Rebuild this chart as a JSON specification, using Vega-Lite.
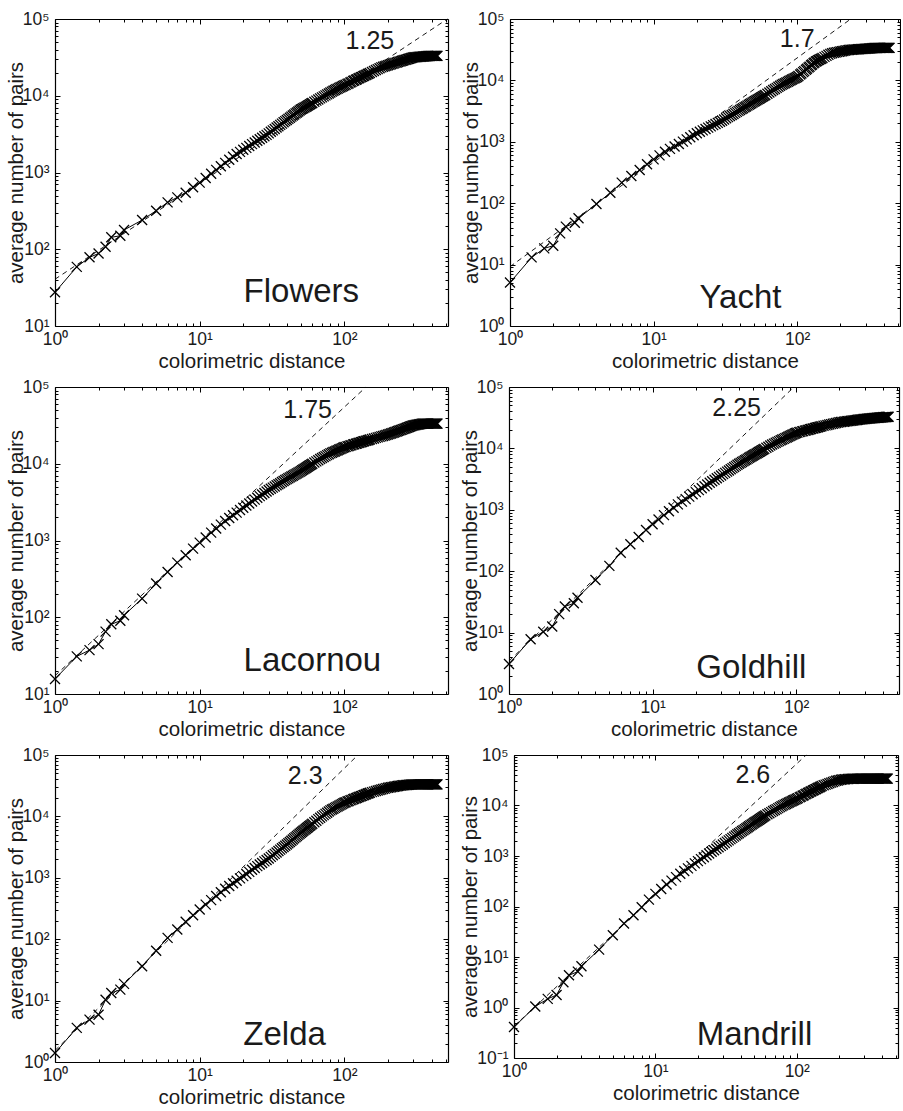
{
"$schema": "https://vega.github.io/schema/vega-lite/v6.json",
"padding": {"left": 6, "top": 10, "right": 0, "bottom": 0},
"datasets": {
"fits": [
{"img":"F","x":1,"y":40.7},{"img":"F","x":515,"y":100000},
{"img":"Y","x":1,"y":9.25},{"img":"Y","x":236,"y":100000},
{"img":"L","x":1,"y":17.3},{"img":"L","x":141,"y":100000},
{"img":"G","x":1,"y":3.44},{"img":"G","x":96.4,"y":100000},
{"img":"Z","x":1,"y":1.54},{"img":"Z","x":124,"y":100000},
{"img":"M","x":1,"y":0.425},{"img":"M","x":116.5,"y":100000}
],
"curves": [
{"img":"F","x":1,"y":27.5},{"img":"F","x":1.414,"y":59},{"img":"F","x":1.732,"y":78.5},{"img":"F","x":2,"y":88},{"img":"F","x":2.236,"y":108},{"img":"F","x":2.449,"y":143},{"img":"F","x":2.828,"y":150},{"img":"F","x":3,"y":178},{"img":"F","x":4,"y":240},{"img":"F","x":5,"y":318},{"img":"F","x":6,"y":408},{"img":"F","x":7,"y":474},{"img":"F","x":8,"y":546},{"img":"F","x":9,"y":641},{"img":"F","x":10,"y":738},{"img":"F","x":11,"y":847},{"img":"F","x":12,"y":962},{"img":"F","x":13,"y":1081},{"img":"F","x":14,"y":1205},{"img":"F","x":15,"y":1334},{"img":"F","x":16,"y":1466},{"img":"F","x":17,"y":1600},{"img":"F","x":18,"y":1738},{"img":"F","x":19,"y":1858},{"img":"F","x":20,"y":1977},{"img":"F","x":21,"y":2095},{"img":"F","x":22,"y":2215},{"img":"F","x":23,"y":2340},{"img":"F","x":24,"y":2460},{"img":"F","x":25,"y":2588},{"img":"F","x":26,"y":2710},{"img":"F","x":27,"y":2837},{"img":"F","x":28,"y":2965},{"img":"F","x":29,"y":3090},{"img":"F","x":30,"y":3236},{"img":"F","x":32,"y":3540},{"img":"F","x":34,"y":3850},{"img":"F","x":36,"y":4170},{"img":"F","x":38,"y":4505},{"img":"F","x":40,"y":4830},{"img":"F","x":42,"y":5170},{"img":"F","x":44,"y":5520},{"img":"F","x":46,"y":5890},{"img":"F","x":48,"y":6235},{"img":"F","x":50,"y":6610},{"img":"F","x":52,"y":6890},{"img":"F","x":54,"y":7170},{"img":"F","x":56,"y":7460},{"img":"F","x":58,"y":7760},{"img":"F","x":60,"y":8055},{"img":"F","x":64,"y":8630},{"img":"F","x":68,"y":9245},{"img":"F","x":72,"y":9820},{"img":"F","x":76,"y":10420},{"img":"F","x":80,"y":11010},{"img":"F","x":84,"y":11610},{"img":"F","x":88,"y":12130},{"img":"F","x":92,"y":12650},{"img":"F","x":96,"y":13150},{"img":"F","x":100,"y":13650},{"img":"F","x":105,"y":14260},{"img":"F","x":110,"y":14890},{"img":"F","x":115,"y":15530},{"img":"F","x":120,"y":16140},{"img":"F","x":125,"y":16750},{"img":"F","x":130,"y":17380},{"img":"F","x":135,"y":17950},{"img":"F","x":140,"y":18580},{"img":"F","x":145,"y":19180},{"img":"F","x":150,"y":19800},{"img":"F","x":160,"y":21020},{"img":"F","x":170,"y":22230},{"img":"F","x":180,"y":23440},{"img":"F","x":190,"y":24230},{"img":"F","x":200,"y":24950},{"img":"F","x":210,"y":25700},{"img":"F","x":220,"y":26420},{"img":"F","x":230,"y":27160},{"img":"F","x":240,"y":27860},{"img":"F","x":250,"y":28510},{"img":"F","x":260,"y":29160},{"img":"F","x":270,"y":29780},{"img":"F","x":280,"y":30410},{"img":"F","x":290,"y":30980},{"img":"F","x":300,"y":31620},{"img":"F","x":310,"y":31780},{"img":"F","x":320,"y":31990},{"img":"F","x":330,"y":32140},{"img":"F","x":340,"y":32290},{"img":"F","x":350,"y":32450},{"img":"F","x":360,"y":32600},{"img":"F","x":370,"y":32740},{"img":"F","x":380,"y":32890},{"img":"F","x":390,"y":33000},{"img":"F","x":400,"y":33110},{"img":"F","x":410,"y":33110},{"img":"F","x":420,"y":33110},{"img":"F","x":430,"y":33110},{"img":"F","x":440,"y":33110},
{"img":"F","x":31,"y":3388},{"img":"F","x":33,"y":3695},{"img":"F","x":35,"y":4010},{"img":"F","x":37,"y":4338},{"img":"F","x":39,"y":4668},{"img":"F","x":41,"y":5000},{"img":"F","x":43,"y":5345},{"img":"F","x":45,"y":5705},{"img":"F","x":47,"y":6063},{"img":"F","x":49,"y":6423},{"img":"F","x":51,"y":6750},{"img":"F","x":53,"y":7030},{"img":"F","x":55,"y":7315},{"img":"F","x":57,"y":7610},{"img":"F","x":59,"y":7908},{"img":"F","x":62,"y":8343},{"img":"F","x":66,"y":8938},{"img":"F","x":70,"y":9533},{"img":"F","x":74,"y":10120},{"img":"F","x":78,"y":10715},{"img":"F","x":82,"y":11310},{"img":"F","x":86,"y":11870},{"img":"F","x":90,"y":12390},{"img":"F","x":94,"y":12900},{"img":"F","x":98,"y":13400},{"img":"F","x":102,"y":13890},{"img":"F","x":107,"y":14510},{"img":"F","x":112,"y":15150},{"img":"F","x":117,"y":15770},{"img":"F","x":122,"y":16380},{"img":"F","x":127,"y":17000},{"img":"F","x":132,"y":17610},{"img":"F","x":137,"y":18200},{"img":"F","x":142,"y":18820},{"img":"F","x":147,"y":19430},{"img":"F","x":155,"y":20410},{"img":"F","x":165,"y":21625},{"img":"F","x":175,"y":22835},{"img":"F","x":185,"y":23835},{"img":"F","x":195,"y":24590},{"img":"F","x":205,"y":25325},{"img":"F","x":215,"y":26060},{"img":"F","x":225,"y":26790},{"img":"F","x":235,"y":27510},{"img":"F","x":245,"y":28185},{"img":"F","x":255,"y":28835},{"img":"F","x":265,"y":29470},{"img":"F","x":275,"y":30095},{"img":"F","x":285,"y":30695},{"img":"F","x":295,"y":31300},{"img":"F","x":305,"y":31700},{"img":"F","x":315,"y":31885},{"img":"F","x":325,"y":32065},{"img":"F","x":335,"y":32215},{"img":"F","x":345,"y":32370},{"img":"F","x":355,"y":32525},{"img":"F","x":365,"y":32670},{"img":"F","x":375,"y":32815},{"img":"F","x":385,"y":32945},{"img":"F","x":395,"y":33055},{"img":"F","x":405,"y":33110},{"img":"F","x":415,"y":33110},{"img":"F","x":425,"y":33110},{"img":"F","x":435,"y":33110},
{"img":"Y","x":1,"y":5.1},{"img":"Y","x":1.414,"y":13.1},{"img":"Y","x":1.732,"y":18.4},{"img":"Y","x":2,"y":20.3},{"img":"Y","x":2.236,"y":32.3},{"img":"Y","x":2.449,"y":41.5},{"img":"Y","x":2.828,"y":48},{"img":"Y","x":3,"y":56.7},{"img":"Y","x":4,"y":97},{"img":"Y","x":5,"y":148},{"img":"Y","x":6,"y":216},{"img":"Y","x":7,"y":277},{"img":"Y","x":8,"y":348},{"img":"Y","x":9,"y":430},{"img":"Y","x":10,"y":518},{"img":"Y","x":11,"y":601},{"img":"Y","x":12,"y":690},{"img":"Y","x":13,"y":766},{"img":"Y","x":14,"y":841},{"img":"Y","x":15,"y":920},{"img":"Y","x":16,"y":1007},{"img":"Y","x":17,"y":1094},{"img":"Y","x":18,"y":1186},{"img":"Y","x":19,"y":1280},{"img":"Y","x":20,"y":1374},{"img":"Y","x":21,"y":1454},{"img":"Y","x":22,"y":1535},{"img":"Y","x":23,"y":1620},{"img":"Y","x":24,"y":1700},{"img":"Y","x":25,"y":1783},{"img":"Y","x":26,"y":1867},{"img":"Y","x":27,"y":1950},{"img":"Y","x":28,"y":2036},{"img":"Y","x":29,"y":2120},{"img":"Y","x":30,"y":2208},{"img":"Y","x":32,"y":2415},{"img":"Y","x":34,"y":2625},{"img":"Y","x":36,"y":2845},{"img":"Y","x":38,"y":3070},{"img":"Y","x":40,"y":3300},{"img":"Y","x":42,"y":3527},{"img":"Y","x":44,"y":3760},{"img":"Y","x":46,"y":4015},{"img":"Y","x":48,"y":4255},{"img":"Y","x":50,"y":4510},{"img":"Y","x":52,"y":4755},{"img":"Y","x":54,"y":5000},{"img":"Y","x":56,"y":5260},{"img":"Y","x":58,"y":5520},{"img":"Y","x":60,"y":5780},{"img":"Y","x":64,"y":6355},{"img":"Y","x":68,"y":6965},{"img":"Y","x":72,"y":7550},{"img":"Y","x":76,"y":8190},{"img":"Y","x":80,"y":8750},{"img":"Y","x":84,"y":9250},{"img":"Y","x":88,"y":9770},{"img":"Y","x":92,"y":10320},{"img":"Y","x":96,"y":10840},{"img":"Y","x":100,"y":11380},{"img":"Y","x":105,"y":12450},{"img":"Y","x":110,"y":13650},{"img":"Y","x":115,"y":14940},{"img":"Y","x":120,"y":16220},{"img":"Y","x":125,"y":17620},{"img":"Y","x":130,"y":19050},{"img":"Y","x":135,"y":20300},{"img":"Y","x":140,"y":21270},{"img":"Y","x":145,"y":22200},{"img":"Y","x":150,"y":23170},{"img":"Y","x":160,"y":25120},{"img":"Y","x":170,"y":27080},{"img":"Y","x":180,"y":28120},{"img":"Y","x":190,"y":28840},{"img":"Y","x":200,"y":29520},{"img":"Y","x":210,"y":30200},{"img":"Y","x":220,"y":30840},{"img":"Y","x":230,"y":31360},{"img":"Y","x":240,"y":31600},{"img":"Y","x":250,"y":31830},{"img":"Y","x":260,"y":32000},{"img":"Y","x":270,"y":32210},{"img":"Y","x":280,"y":32430},{"img":"Y","x":290,"y":32600},{"img":"Y","x":300,"y":32810},{"img":"Y","x":310,"y":32960},{"img":"Y","x":320,"y":33110},{"img":"Y","x":330,"y":33340},{"img":"Y","x":340,"y":33500},{"img":"Y","x":350,"y":33700},{"img":"Y","x":360,"y":33800},{"img":"Y","x":370,"y":33900},{"img":"Y","x":380,"y":33900},{"img":"Y","x":390,"y":33900},{"img":"Y","x":400,"y":33900},{"img":"Y","x":410,"y":33900},{"img":"Y","x":420,"y":33900},{"img":"Y","x":430,"y":33900},{"img":"Y","x":440,"y":33900},
{"img":"Y","x":31,"y":2312},{"img":"Y","x":33,"y":2520},{"img":"Y","x":35,"y":2735},{"img":"Y","x":37,"y":2958},{"img":"Y","x":39,"y":3185},{"img":"Y","x":41,"y":3414},{"img":"Y","x":43,"y":3644},{"img":"Y","x":45,"y":3888},{"img":"Y","x":47,"y":4135},{"img":"Y","x":49,"y":4383},{"img":"Y","x":51,"y":4633},{"img":"Y","x":53,"y":4878},{"img":"Y","x":55,"y":5130},{"img":"Y","x":57,"y":5390},{"img":"Y","x":59,"y":5650},{"img":"Y","x":62,"y":6068},{"img":"Y","x":66,"y":6660},{"img":"Y","x":70,"y":7258},{"img":"Y","x":74,"y":7870},{"img":"Y","x":78,"y":8470},{"img":"Y","x":82,"y":9000},{"img":"Y","x":86,"y":9510},{"img":"Y","x":90,"y":10045},{"img":"Y","x":94,"y":10580},{"img":"Y","x":98,"y":11110},{"img":"Y","x":102,"y":11810},{"img":"Y","x":107,"y":12930},{"img":"Y","x":112,"y":14170},{"img":"Y","x":117,"y":15450},{"img":"Y","x":122,"y":16780},{"img":"Y","x":127,"y":18190},{"img":"Y","x":132,"y":19550},{"img":"Y","x":137,"y":20690},{"img":"Y","x":142,"y":21640},{"img":"Y","x":147,"y":22590},{"img":"Y","x":155,"y":24145},{"img":"Y","x":165,"y":26100},{"img":"Y","x":175,"y":27600},{"img":"Y","x":185,"y":28480},{"img":"Y","x":195,"y":29180},{"img":"Y","x":205,"y":29860},{"img":"Y","x":215,"y":30520},{"img":"Y","x":225,"y":31100},{"img":"Y","x":235,"y":31480},{"img":"Y","x":245,"y":31715},{"img":"Y","x":255,"y":31915},{"img":"Y","x":265,"y":32105},{"img":"Y","x":275,"y":32320},{"img":"Y","x":285,"y":32515},{"img":"Y","x":295,"y":32705},{"img":"Y","x":305,"y":32885},{"img":"Y","x":315,"y":33035},{"img":"Y","x":325,"y":33225},{"img":"Y","x":335,"y":33420},{"img":"Y","x":345,"y":33600},{"img":"Y","x":355,"y":33750},{"img":"Y","x":365,"y":33850},{"img":"Y","x":375,"y":33900},{"img":"Y","x":385,"y":33900},{"img":"Y","x":395,"y":33900},{"img":"Y","x":405,"y":33900},{"img":"Y","x":415,"y":33900},{"img":"Y","x":425,"y":33900},{"img":"Y","x":435,"y":33900},
{"img":"L","x":1,"y":15.7},{"img":"L","x":1.414,"y":30.9},{"img":"L","x":1.732,"y":37.3},{"img":"L","x":2,"y":44.7},{"img":"L","x":2.236,"y":65},{"img":"L","x":2.449,"y":81},{"img":"L","x":2.828,"y":90},{"img":"L","x":3,"y":106},{"img":"L","x":4,"y":175},{"img":"L","x":5,"y":275},{"img":"L","x":6,"y":389},{"img":"L","x":7,"y":515},{"img":"L","x":8,"y":641},{"img":"L","x":9,"y":783},{"img":"L","x":10,"y":938},{"img":"L","x":11,"y":1096},{"img":"L","x":12,"y":1265},{"img":"L","x":13,"y":1435},{"img":"L","x":14,"y":1610},{"img":"L","x":15,"y":1795},{"img":"L","x":16,"y":1963},{"img":"L","x":17,"y":2133},{"img":"L","x":18,"y":2307},{"img":"L","x":19,"y":2494},{"img":"L","x":20,"y":2673},{"img":"L","x":21,"y":2851},{"img":"L","x":22,"y":3034},{"img":"L","x":23,"y":3228},{"img":"L","x":24,"y":3412},{"img":"L","x":25,"y":3606},{"img":"L","x":26,"y":3790},{"img":"L","x":27,"y":3970},{"img":"L","x":28,"y":4160},{"img":"L","x":29,"y":4345},{"img":"L","x":30,"y":4540},{"img":"L","x":32,"y":4887},{"img":"L","x":34,"y":5236},{"img":"L","x":36,"y":5585},{"img":"L","x":38,"y":5957},{"img":"L","x":40,"y":6310},{"img":"L","x":42,"y":6650},{"img":"L","x":44,"y":6982},{"img":"L","x":46,"y":7330},{"img":"L","x":48,"y":7670},{"img":"L","x":50,"y":8017},{"img":"L","x":52,"y":8410},{"img":"L","x":54,"y":8790},{"img":"L","x":56,"y":9200},{"img":"L","x":58,"y":9590},{"img":"L","x":60,"y":10000},{"img":"L","x":64,"y":10750},{"img":"L","x":68,"y":11520},{"img":"L","x":72,"y":12220},{"img":"L","x":76,"y":12940},{"img":"L","x":80,"y":13650},{"img":"L","x":84,"y":14200},{"img":"L","x":88,"y":14750},{"img":"L","x":92,"y":15310},{"img":"L","x":96,"y":15850},{"img":"L","x":100,"y":16400},{"img":"L","x":105,"y":16860},{"img":"L","x":110,"y":17300},{"img":"L","x":115,"y":17780},{"img":"L","x":120,"y":18200},{"img":"L","x":125,"y":18620},{"img":"L","x":130,"y":19050},{"img":"L","x":135,"y":19450},{"img":"L","x":140,"y":19860},{"img":"L","x":145,"y":20240},{"img":"L","x":150,"y":20650},{"img":"L","x":160,"y":21370},{"img":"L","x":170,"y":22050},{"img":"L","x":180,"y":22710},{"img":"L","x":190,"y":23380},{"img":"L","x":200,"y":23990},{"img":"L","x":210,"y":24770},{"img":"L","x":220,"y":25590},{"img":"L","x":230,"y":26370},{"img":"L","x":240,"y":27120},{"img":"L","x":250,"y":27860},{"img":"L","x":260,"y":28640},{"img":"L","x":270,"y":29380},{"img":"L","x":280,"y":30130},{"img":"L","x":290,"y":30900},{"img":"L","x":300,"y":31620},{"img":"L","x":310,"y":31990},{"img":"L","x":320,"y":32360},{"img":"L","x":330,"y":32660},{"img":"L","x":340,"y":33040},{"img":"L","x":350,"y":33340},{"img":"L","x":360,"y":33340},{"img":"L","x":370,"y":33340},{"img":"L","x":380,"y":33340},{"img":"L","x":390,"y":33340},{"img":"L","x":400,"y":33340},{"img":"L","x":410,"y":33340},{"img":"L","x":420,"y":33340},{"img":"L","x":430,"y":33340},{"img":"L","x":440,"y":33340},
{"img":"L","x":31,"y":4714},{"img":"L","x":33,"y":5062},{"img":"L","x":35,"y":5410},{"img":"L","x":37,"y":5771},{"img":"L","x":39,"y":6134},{"img":"L","x":41,"y":6480},{"img":"L","x":43,"y":6816},{"img":"L","x":45,"y":7156},{"img":"L","x":47,"y":7500},{"img":"L","x":49,"y":7844},{"img":"L","x":51,"y":8214},{"img":"L","x":53,"y":8600},{"img":"L","x":55,"y":8995},{"img":"L","x":57,"y":9395},{"img":"L","x":59,"y":9795},{"img":"L","x":62,"y":10375},{"img":"L","x":66,"y":11135},{"img":"L","x":70,"y":11870},{"img":"L","x":74,"y":12580},{"img":"L","x":78,"y":13295},{"img":"L","x":82,"y":13925},{"img":"L","x":86,"y":14475},{"img":"L","x":90,"y":15030},{"img":"L","x":94,"y":15580},{"img":"L","x":98,"y":16125},{"img":"L","x":102,"y":16580},{"img":"L","x":107,"y":17040},{"img":"L","x":112,"y":17490},{"img":"L","x":117,"y":17950},{"img":"L","x":122,"y":18370},{"img":"L","x":127,"y":18790},{"img":"L","x":132,"y":19210},{"img":"L","x":137,"y":19610},{"img":"L","x":142,"y":20010},{"img":"L","x":147,"y":20400},{"img":"L","x":155,"y":21010},{"img":"L","x":165,"y":21710},{"img":"L","x":175,"y":22380},{"img":"L","x":185,"y":23045},{"img":"L","x":195,"y":23685},{"img":"L","x":205,"y":24380},{"img":"L","x":215,"y":25180},{"img":"L","x":225,"y":25980},{"img":"L","x":235,"y":26745},{"img":"L","x":245,"y":27490},{"img":"L","x":255,"y":28250},{"img":"L","x":265,"y":29010},{"img":"L","x":275,"y":29755},{"img":"L","x":285,"y":30515},{"img":"L","x":295,"y":31260},{"img":"L","x":305,"y":31805},{"img":"L","x":315,"y":32175},{"img":"L","x":325,"y":32510},{"img":"L","x":335,"y":32850},{"img":"L","x":345,"y":33190},{"img":"L","x":355,"y":33340},{"img":"L","x":365,"y":33340},{"img":"L","x":375,"y":33340},{"img":"L","x":385,"y":33340},{"img":"L","x":395,"y":33340},{"img":"L","x":405,"y":33340},{"img":"L","x":415,"y":33340},{"img":"L","x":425,"y":33340},{"img":"L","x":435,"y":33340},
{"img":"G","x":1,"y":3.08},{"img":"G","x":1.414,"y":7.8},{"img":"G","x":1.732,"y":10.3},{"img":"G","x":2,"y":12.6},{"img":"G","x":2.236,"y":20},{"img":"G","x":2.449,"y":26.6},{"img":"G","x":2.828,"y":30},{"img":"G","x":3,"y":37},{"img":"G","x":4,"y":72},{"img":"G","x":5,"y":122},{"img":"G","x":6,"y":200},{"img":"G","x":7,"y":274},{"img":"G","x":8,"y":361},{"img":"G","x":9,"y":469},{"img":"G","x":10,"y":580},{"img":"G","x":11,"y":694},{"img":"G","x":12,"y":820},{"img":"G","x":13,"y":948},{"img":"G","x":14,"y":1082},{"img":"G","x":15,"y":1225},{"img":"G","x":16,"y":1358},{"img":"G","x":17,"y":1493},{"img":"G","x":18,"y":1637},{"img":"G","x":19,"y":1790},{"img":"G","x":20,"y":1941},{"img":"G","x":21,"y":2094},{"img":"G","x":22,"y":2250},{"img":"G","x":23,"y":2420},{"img":"G","x":24,"y":2582},{"img":"G","x":25,"y":2754},{"img":"G","x":26,"y":2923},{"img":"G","x":27,"y":3090},{"img":"G","x":28,"y":3266},{"img":"G","x":29,"y":3436},{"img":"G","x":30,"y":3622},{"img":"G","x":32,"y":3996},{"img":"G","x":34,"y":4375},{"img":"G","x":36,"y":4775},{"img":"G","x":38,"y":5200},{"img":"G","x":40,"y":5610},{"img":"G","x":42,"y":6000},{"img":"G","x":44,"y":6400},{"img":"G","x":46,"y":6820},{"img":"G","x":48,"y":7230},{"img":"G","x":50,"y":7660},{"img":"G","x":52,"y":8080},{"img":"G","x":54,"y":8490},{"img":"G","x":56,"y":8930},{"img":"G","x":58,"y":9370},{"img":"G","x":60,"y":9820},{"img":"G","x":64,"y":10670},{"img":"G","x":68,"y":11560},{"img":"G","x":72,"y":12360},{"img":"G","x":76,"y":13150},{"img":"G","x":80,"y":13930},{"img":"G","x":84,"y":14690},{"img":"G","x":88,"y":15470},{"img":"G","x":92,"y":16290},{"img":"G","x":96,"y":17060},{"img":"G","x":100,"y":17870},{"img":"G","x":105,"y":18400},{"img":"G","x":110,"y":18920},{"img":"G","x":115,"y":19460},{"img":"G","x":120,"y":19950},{"img":"G","x":125,"y":20500},{"img":"G","x":130,"y":20990},{"img":"G","x":135,"y":21480},{"img":"G","x":140,"y":21980},{"img":"G","x":145,"y":22440},{"img":"G","x":150,"y":22910},{"img":"G","x":160,"y":23710},{"img":"G","x":170,"y":24450},{"img":"G","x":180,"y":25210},{"img":"G","x":190,"y":25940},{"img":"G","x":200,"y":26670},{"img":"G","x":210,"y":27060},{"img":"G","x":220,"y":27440},{"img":"G","x":230,"y":27800},{"img":"G","x":240,"y":28180},{"img":"G","x":250,"y":28560},{"img":"G","x":260,"y":28900},{"img":"G","x":270,"y":29230},{"img":"G","x":280,"y":29570},{"img":"G","x":290,"y":29860},{"img":"G","x":300,"y":30200},{"img":"G","x":310,"y":30410},{"img":"G","x":320,"y":30620},{"img":"G","x":330,"y":30830},{"img":"G","x":340,"y":30980},{"img":"G","x":350,"y":31190},{"img":"G","x":360,"y":31410},{"img":"G","x":370,"y":31550},{"img":"G","x":380,"y":31770},{"img":"G","x":390,"y":31920},{"img":"G","x":400,"y":32060},{"img":"G","x":410,"y":32290},{"img":"G","x":420,"y":32430},{"img":"G","x":430,"y":32580},{"img":"G","x":440,"y":32730},
{"img":"G","x":31,"y":3809},{"img":"G","x":33,"y":4186},{"img":"G","x":35,"y":4575},{"img":"G","x":37,"y":4988},{"img":"G","x":39,"y":5405},{"img":"G","x":41,"y":5805},{"img":"G","x":43,"y":6200},{"img":"G","x":45,"y":6610},{"img":"G","x":47,"y":7025},{"img":"G","x":49,"y":7445},{"img":"G","x":51,"y":7870},{"img":"G","x":53,"y":8285},{"img":"G","x":55,"y":8710},{"img":"G","x":57,"y":9150},{"img":"G","x":59,"y":9595},{"img":"G","x":62,"y":10245},{"img":"G","x":66,"y":11115},{"img":"G","x":70,"y":11960},{"img":"G","x":74,"y":12755},{"img":"G","x":78,"y":13540},{"img":"G","x":82,"y":14310},{"img":"G","x":86,"y":15080},{"img":"G","x":90,"y":15880},{"img":"G","x":94,"y":16675},{"img":"G","x":98,"y":17465},{"img":"G","x":102,"y":18080},{"img":"G","x":107,"y":18610},{"img":"G","x":112,"y":19140},{"img":"G","x":117,"y":19660},{"img":"G","x":122,"y":20170},{"img":"G","x":127,"y":20700},{"img":"G","x":132,"y":21190},{"img":"G","x":137,"y":21680},{"img":"G","x":142,"y":22160},{"img":"G","x":147,"y":22630},{"img":"G","x":155,"y":23310},{"img":"G","x":165,"y":24080},{"img":"G","x":175,"y":24830},{"img":"G","x":185,"y":25575},{"img":"G","x":195,"y":26305},{"img":"G","x":205,"y":26865},{"img":"G","x":215,"y":27250},{"img":"G","x":225,"y":27620},{"img":"G","x":235,"y":27990},{"img":"G","x":245,"y":28370},{"img":"G","x":255,"y":28730},{"img":"G","x":265,"y":29065},{"img":"G","x":275,"y":29400},{"img":"G","x":285,"y":29715},{"img":"G","x":295,"y":30030},{"img":"G","x":305,"y":30305},{"img":"G","x":315,"y":30515},{"img":"G","x":325,"y":30725},{"img":"G","x":335,"y":30905},{"img":"G","x":345,"y":31085},{"img":"G","x":355,"y":31300},{"img":"G","x":365,"y":31480},{"img":"G","x":375,"y":31660},{"img":"G","x":385,"y":31845},{"img":"G","x":395,"y":31990},{"img":"G","x":405,"y":32175},{"img":"G","x":415,"y":32360},{"img":"G","x":425,"y":32505},{"img":"G","x":435,"y":32655},
{"img":"Z","x":1,"y":1.4},{"img":"Z","x":1.414,"y":3.6},{"img":"Z","x":1.732,"y":4.9},{"img":"Z","x":2,"y":5.9},{"img":"Z","x":2.236,"y":10.3},{"img":"Z","x":2.449,"y":13.3},{"img":"Z","x":2.828,"y":15.1},{"img":"Z","x":3,"y":18.7},{"img":"Z","x":4,"y":36.3},{"img":"Z","x":5,"y":65},{"img":"Z","x":6,"y":105},{"img":"Z","x":7,"y":144},{"img":"Z","x":8,"y":192},{"img":"Z","x":9,"y":246},{"img":"Z","x":10,"y":305},{"img":"Z","x":11,"y":366},{"img":"Z","x":12,"y":433},{"img":"Z","x":13,"y":505},{"img":"Z","x":14,"y":581},{"img":"Z","x":15,"y":662},{"img":"Z","x":16,"y":736},{"img":"Z","x":17,"y":813},{"img":"Z","x":18,"y":893},{"img":"Z","x":19,"y":979},{"img":"Z","x":20,"y":1064},{"img":"Z","x":21,"y":1153},{"img":"Z","x":22,"y":1247},{"img":"Z","x":23,"y":1349},{"img":"Z","x":24,"y":1445},{"img":"Z","x":25,"y":1549},{"img":"Z","x":26,"y":1648},{"img":"Z","x":27,"y":1746},{"img":"Z","x":28,"y":1849},{"img":"Z","x":29,"y":1954},{"img":"Z","x":30,"y":2065},{"img":"Z","x":32,"y":2323},{"img":"Z","x":34,"y":2588},{"img":"Z","x":36,"y":2877},{"img":"Z","x":38,"y":3184},{"img":"Z","x":40,"y":3490},{"img":"Z","x":42,"y":3840},{"img":"Z","x":44,"y":4205},{"img":"Z","x":46,"y":4603},{"img":"Z","x":48,"y":5000},{"img":"Z","x":50,"y":5420},{"img":"Z","x":52,"y":5820},{"img":"Z","x":54,"y":6240},{"img":"Z","x":56,"y":6670},{"img":"Z","x":58,"y":7110},{"img":"Z","x":60,"y":7590},{"img":"Z","x":64,"y":8510},{"img":"Z","x":68,"y":9520},{"img":"Z","x":72,"y":10480},{"img":"Z","x":76,"y":11500},{"img":"Z","x":80,"y":12530},{"img":"Z","x":84,"y":13340},{"img":"Z","x":88,"y":14160},{"img":"Z","x":92,"y":15000},{"img":"Z","x":96,"y":15850},{"img":"Z","x":100,"y":16710},{"img":"Z","x":105,"y":17470},{"img":"Z","x":110,"y":18240},{"img":"Z","x":115,"y":19050},{"img":"Z","x":120,"y":19770},{"img":"Z","x":125,"y":20560},{"img":"Z","x":130,"y":21330},{"img":"Z","x":135,"y":22030},{"img":"Z","x":140,"y":22800},{"img":"Z","x":145,"y":23550},{"img":"Z","x":150,"y":24320},{"img":"Z","x":160,"y":25350},{"img":"Z","x":170,"y":26360},{"img":"Z","x":180,"y":27350},{"img":"Z","x":190,"y":28380},{"img":"Z","x":200,"y":29310},{"img":"Z","x":210,"y":29850},{"img":"Z","x":220,"y":30410},{"img":"Z","x":230,"y":30970},{"img":"Z","x":240,"y":31480},{"img":"Z","x":250,"y":31990},{"img":"Z","x":260,"y":32260},{"img":"Z","x":270,"y":32510},{"img":"Z","x":280,"y":32800},{"img":"Z","x":290,"y":33040},{"img":"Z","x":300,"y":33270},{"img":"Z","x":310,"y":33270},{"img":"Z","x":320,"y":33270},{"img":"Z","x":330,"y":33270},{"img":"Z","x":340,"y":33270},{"img":"Z","x":350,"y":33270},{"img":"Z","x":360,"y":33270},{"img":"Z","x":370,"y":33270},{"img":"Z","x":380,"y":33270},{"img":"Z","x":390,"y":33270},{"img":"Z","x":400,"y":33270},{"img":"Z","x":410,"y":33270},{"img":"Z","x":420,"y":33270},{"img":"Z","x":430,"y":33270},{"img":"Z","x":440,"y":33270},
{"img":"Z","x":31,"y":2194},{"img":"Z","x":33,"y":2456},{"img":"Z","x":35,"y":2733},{"img":"Z","x":37,"y":3031},{"img":"Z","x":39,"y":3337},{"img":"Z","x":41,"y":3665},{"img":"Z","x":43,"y":4023},{"img":"Z","x":45,"y":4404},{"img":"Z","x":47,"y":4802},{"img":"Z","x":49,"y":5210},{"img":"Z","x":51,"y":5620},{"img":"Z","x":53,"y":6030},{"img":"Z","x":55,"y":6455},{"img":"Z","x":57,"y":6890},{"img":"Z","x":59,"y":7350},{"img":"Z","x":62,"y":8050},{"img":"Z","x":66,"y":9015},{"img":"Z","x":70,"y":10000},{"img":"Z","x":74,"y":10990},{"img":"Z","x":78,"y":12015},{"img":"Z","x":82,"y":12935},{"img":"Z","x":86,"y":13750},{"img":"Z","x":90,"y":14580},{"img":"Z","x":94,"y":15425},{"img":"Z","x":98,"y":16280},{"img":"Z","x":102,"y":17010},{"img":"Z","x":107,"y":17780},{"img":"Z","x":112,"y":18560},{"img":"Z","x":117,"y":19340},{"img":"Z","x":122,"y":20090},{"img":"Z","x":127,"y":20870},{"img":"Z","x":132,"y":21610},{"img":"Z","x":137,"y":22340},{"img":"Z","x":142,"y":23100},{"img":"Z","x":147,"y":23860},{"img":"Z","x":155,"y":24835},{"img":"Z","x":165,"y":25855},{"img":"Z","x":175,"y":26855},{"img":"Z","x":185,"y":27865},{"img":"Z","x":195,"y":28845},{"img":"Z","x":205,"y":29580},{"img":"Z","x":215,"y":30130},{"img":"Z","x":225,"y":30690},{"img":"Z","x":235,"y":31225},{"img":"Z","x":245,"y":31735},{"img":"Z","x":255,"y":32125},{"img":"Z","x":265,"y":32385},{"img":"Z","x":275,"y":32655},{"img":"Z","x":285,"y":32920},{"img":"Z","x":295,"y":33155},{"img":"Z","x":305,"y":33270},{"img":"Z","x":315,"y":33270},{"img":"Z","x":325,"y":33270},{"img":"Z","x":335,"y":33270},{"img":"Z","x":345,"y":33270},{"img":"Z","x":355,"y":33270},{"img":"Z","x":365,"y":33270},{"img":"Z","x":375,"y":33270},{"img":"Z","x":385,"y":33270},{"img":"Z","x":395,"y":33270},{"img":"Z","x":405,"y":33270},{"img":"Z","x":415,"y":33270},{"img":"Z","x":425,"y":33270},{"img":"Z","x":435,"y":33270},
{"img":"M","x":1,"y":0.41},{"img":"M","x":1.414,"y":1.05},{"img":"M","x":1.732,"y":1.48},{"img":"M","x":2,"y":1.77},{"img":"M","x":2.236,"y":3.16},{"img":"M","x":2.449,"y":4.35},{"img":"M","x":2.828,"y":5.14},{"img":"M","x":3,"y":6.55},{"img":"M","x":4,"y":14},{"img":"M","x":5,"y":27},{"img":"M","x":6,"y":46},{"img":"M","x":7,"y":67},{"img":"M","x":8,"y":97},{"img":"M","x":9,"y":137},{"img":"M","x":10,"y":178},{"img":"M","x":11,"y":222},{"img":"M","x":12,"y":273},{"img":"M","x":13,"y":325},{"img":"M","x":14,"y":382},{"img":"M","x":15,"y":444},{"img":"M","x":16,"y":505},{"img":"M","x":17,"y":569},{"img":"M","x":18,"y":638},{"img":"M","x":19,"y":714},{"img":"M","x":20,"y":791},{"img":"M","x":21,"y":867},{"img":"M","x":22,"y":946},{"img":"M","x":23,"y":1033},{"img":"M","x":24,"y":1119},{"img":"M","x":25,"y":1211},{"img":"M","x":26,"y":1301},{"img":"M","x":27,"y":1393},{"img":"M","x":28,"y":1489},{"img":"M","x":29,"y":1589},{"img":"M","x":30,"y":1694},{"img":"M","x":32,"y":1923},{"img":"M","x":34,"y":2158},{"img":"M","x":36,"y":2415},{"img":"M","x":38,"y":2692},{"img":"M","x":40,"y":2972},{"img":"M","x":42,"y":3258},{"img":"M","x":44,"y":3556},{"img":"M","x":46,"y":3882},{"img":"M","x":48,"y":4207},{"img":"M","x":50,"y":4550},{"img":"M","x":52,"y":4887},{"img":"M","x":54,"y":5236},{"img":"M","x":56,"y":5598},{"img":"M","x":58,"y":5970},{"img":"M","x":60,"y":6368},{"img":"M","x":64,"y":7047},{"img":"M","x":68,"y":7762},{"img":"M","x":72,"y":8490},{"img":"M","x":76,"y":9270},{"img":"M","x":80,"y":10050},{"img":"M","x":84,"y":10730},{"img":"M","x":88,"y":11430},{"img":"M","x":92,"y":12170},{"img":"M","x":96,"y":12880},{"img":"M","x":100,"y":13610},{"img":"M","x":105,"y":14590},{"img":"M","x":110,"y":15560},{"img":"M","x":115,"y":16630},{"img":"M","x":120,"y":17620},{"img":"M","x":125,"y":18700},{"img":"M","x":130,"y":19770},{"img":"M","x":135,"y":20840},{"img":"M","x":140,"y":21980},{"img":"M","x":145,"y":23070},{"img":"M","x":150,"y":24270},{"img":"M","x":160,"y":25940},{"img":"M","x":170,"y":27540},{"img":"M","x":180,"y":29170},{"img":"M","x":190,"y":30900},{"img":"M","x":200,"y":31840},{"img":"M","x":210,"y":32730},{"img":"M","x":220,"y":33110},{"img":"M","x":230,"y":33500},{"img":"M","x":240,"y":33810},{"img":"M","x":250,"y":33880},{"img":"M","x":260,"y":34040},{"img":"M","x":270,"y":34040},{"img":"M","x":280,"y":34040},{"img":"M","x":290,"y":34040},{"img":"M","x":300,"y":34040},{"img":"M","x":310,"y":34040},{"img":"M","x":320,"y":34040},{"img":"M","x":330,"y":34040},{"img":"M","x":340,"y":34040},{"img":"M","x":350,"y":34040},{"img":"M","x":360,"y":34040},{"img":"M","x":370,"y":34040},{"img":"M","x":380,"y":34040},{"img":"M","x":390,"y":34040},{"img":"M","x":400,"y":34040},{"img":"M","x":410,"y":34040},{"img":"M","x":420,"y":34040},{"img":"M","x":430,"y":34040},{"img":"M","x":440,"y":34040},
{"img":"M","x":31,"y":1809},{"img":"M","x":33,"y":2041},{"img":"M","x":35,"y":2287},{"img":"M","x":37,"y":2554},{"img":"M","x":39,"y":2832},{"img":"M","x":41,"y":3115},{"img":"M","x":43,"y":3407},{"img":"M","x":45,"y":3719},{"img":"M","x":47,"y":4045},{"img":"M","x":49,"y":4379},{"img":"M","x":51,"y":4719},{"img":"M","x":53,"y":5062},{"img":"M","x":55,"y":5417},{"img":"M","x":57,"y":5784},{"img":"M","x":59,"y":6169},{"img":"M","x":62,"y":6708},{"img":"M","x":66,"y":7405},{"img":"M","x":70,"y":8126},{"img":"M","x":74,"y":8880},{"img":"M","x":78,"y":9660},{"img":"M","x":82,"y":10390},{"img":"M","x":86,"y":11080},{"img":"M","x":90,"y":11800},{"img":"M","x":94,"y":12525},{"img":"M","x":98,"y":13245},{"img":"M","x":102,"y":14000},{"img":"M","x":107,"y":14980},{"img":"M","x":112,"y":15990},{"img":"M","x":117,"y":17030},{"img":"M","x":122,"y":18050},{"img":"M","x":127,"y":19130},{"img":"M","x":132,"y":20200},{"img":"M","x":137,"y":21300},{"img":"M","x":142,"y":22420},{"img":"M","x":147,"y":23550},{"img":"M","x":155,"y":25105},{"img":"M","x":165,"y":26740},{"img":"M","x":175,"y":28355},{"img":"M","x":185,"y":30035},{"img":"M","x":195,"y":31370},{"img":"M","x":205,"y":32285},{"img":"M","x":215,"y":32920},{"img":"M","x":225,"y":33305},{"img":"M","x":235,"y":33655},{"img":"M","x":245,"y":33845},{"img":"M","x":255,"y":33960},{"img":"M","x":265,"y":34040},{"img":"M","x":275,"y":34040},{"img":"M","x":285,"y":34040},{"img":"M","x":295,"y":34040},{"img":"M","x":305,"y":34040},{"img":"M","x":315,"y":34040},{"img":"M","x":325,"y":34040},{"img":"M","x":335,"y":34040},{"img":"M","x":345,"y":34040},{"img":"M","x":355,"y":34040},{"img":"M","x":365,"y":34040},{"img":"M","x":375,"y":34040},{"img":"M","x":385,"y":34040},{"img":"M","x":395,"y":34040},{"img":"M","x":405,"y":34040},{"img":"M","x":415,"y":34040},{"img":"M","x":425,"y":34040},{"img":"M","x":435,"y":34040}
]
},
"spacing": 6,
"vconcat": [
{"spacing": 11, "hconcat": [
{"width": 393, "height": 307,
 "layer": [
  {"data": {"name": "fits"}, "transform": [{"filter": "datum.img === 'F'"}],
   "mark": {"type": "line", "color": "#000", "strokeWidth": 0.9, "strokeDash": [5, 4]},
   "encoding": {
    "x": {"field": "x", "type": "quantitative", "scale": {"type": "log", "domain": [1, 520], "nice": false},
      "axis": {"orient": "top", "title": null, "labels": false, "values": [1,2,3,4,5,6,7,8,9,10,20,30,40,50,60,70,80,90,100,200,300,400,500], "tickSize": {"condition": {"test": "abs(log(datum.value)/LN10 - round(log(datum.value)/LN10)) < 0.001", "value": -5}, "value": -3}}},
    "y": {"field": "y", "type": "quantitative", "scale": {"type": "log", "domain": [10, 100000], "nice": false},
      "axis": {"orient": "right", "title": null, "labels": false, "values": [0.1,0.2,0.3,0.4,0.5,0.6,0.7,0.8,0.9,1,2,3,4,5,6,7,8,9,10,20,30,40,50,60,70,80,90,100,200,300,400,500,600,700,800,900,1000,2000,3000,4000,5000,6000,7000,8000,9000,10000,20000,30000,40000,50000,60000,70000,80000,90000,100000], "tickSize": {"condition": {"test": "abs(log(datum.value)/LN10 - round(log(datum.value)/LN10)) < 0.001", "value": -5}, "value": -3}}}
   }},
  {"data": {"name": "curves"}, "transform": [{"filter": "datum.img === 'F'"}],
   "mark": {"type": "line", "color": "#000", "strokeWidth": 1},
   "encoding": {
    "x": {"field": "x", "type": "quantitative", "scale": {"type": "log", "domain": [1, 520], "nice": false},
      "axis": {"orient": "bottom", "title": "colorimetric distance", "values": [1,2,3,4,5,6,7,8,9,10,20,30,40,50,60,70,80,90,100,200,300,400,500], "labelExpr": "abs(log(datum.value)/LN10 - round(log(datum.value)/LN10)) < 0.001 ? '10' + ['⁻¹','⁰','¹','²','³','⁴','⁵'][round(log(datum.value)/LN10) + 1] : ''", "tickSize": {"condition": {"test": "abs(log(datum.value)/LN10 - round(log(datum.value)/LN10)) < 0.001", "value": -5}, "value": -3}, "labelPadding": 9, "titlePadding": 2}},
    "y": {"field": "y", "type": "quantitative", "scale": {"type": "log", "domain": [10, 100000], "nice": false},
      "axis": {"orient": "left", "title": "average number of pairs", "values": [0.1,0.2,0.3,0.4,0.5,0.6,0.7,0.8,0.9,1,2,3,4,5,6,7,8,9,10,20,30,40,50,60,70,80,90,100,200,300,400,500,600,700,800,900,1000,2000,3000,4000,5000,6000,7000,8000,9000,10000,20000,30000,40000,50000,60000,70000,80000,90000,100000], "labelExpr": "abs(log(datum.value)/LN10 - round(log(datum.value)/LN10)) < 0.001 ? '10' + ['⁻¹','⁰','¹','²','³','⁴','⁵'][round(log(datum.value)/LN10) + 1] : ''", "tickSize": {"condition": {"test": "abs(log(datum.value)/LN10 - round(log(datum.value)/LN10)) < 0.001", "value": -5}, "value": -3}, "labelPadding": 11, "titlePadding": -4}}
   }},
  {"data": {"name": "curves"}, "transform": [{"filter": "datum.img === 'F'"}],
   "mark": {"type": "point", "shape": "M-1,-1L1,1M-1,1L1,-1", "size": 100, "filled": false, "color": "#000", "strokeWidth": 1.3, "opacity": 1},
   "encoding": {"x": {"field": "x", "type": "quantitative", "axis": null}, "y": {"field": "y", "type": "quantitative", "axis": null}}},
  {"data": {"values": [{"t": "1.25"}]}, "mark": {"type": "text", "fontSize": 25, "align": "center", "baseline": "alphabetic", "color": "#1a1a1a"},
   "encoding": {"x": {"datum": 150, "axis": null}, "y": {"datum": 40300, "axis": null}, "text": {"field": "t"}}},
  {"data": {"values": [{"t": "Flowers"}]}, "mark": {"type": "text", "fontSize": 33, "align": "center", "baseline": "alphabetic", "color": "#1a1a1a"},
   "encoding": {"x": {"datum": 50.4, "axis": null}, "y": {"datum": 20.7, "axis": null}, "text": {"field": "t"}}}
 ],
 "resolve": {"axis": {"x": "independent", "y": "independent"}}
},
{"width": 390, "height": 307,
 "layer": [
  {"data": {"name": "fits"}, "transform": [{"filter": "datum.img === 'Y'"}],
   "mark": {"type": "line", "color": "#000", "strokeWidth": 0.9, "strokeDash": [5, 4]},
   "encoding": {
    "x": {"field": "x", "type": "quantitative", "scale": {"type": "log", "domain": [1, 520], "nice": false},
      "axis": {"orient": "top", "title": null, "labels": false, "values": [1,2,3,4,5,6,7,8,9,10,20,30,40,50,60,70,80,90,100,200,300,400,500], "tickSize": {"condition": {"test": "abs(log(datum.value)/LN10 - round(log(datum.value)/LN10)) < 0.001", "value": -5}, "value": -3}}},
    "y": {"field": "y", "type": "quantitative", "scale": {"type": "log", "domain": [1, 100000], "nice": false},
      "axis": {"orient": "right", "title": null, "labels": false, "values": [0.1,0.2,0.3,0.4,0.5,0.6,0.7,0.8,0.9,1,2,3,4,5,6,7,8,9,10,20,30,40,50,60,70,80,90,100,200,300,400,500,600,700,800,900,1000,2000,3000,4000,5000,6000,7000,8000,9000,10000,20000,30000,40000,50000,60000,70000,80000,90000,100000], "tickSize": {"condition": {"test": "abs(log(datum.value)/LN10 - round(log(datum.value)/LN10)) < 0.001", "value": -5}, "value": -3}}}
   }},
  {"data": {"name": "curves"}, "transform": [{"filter": "datum.img === 'Y'"}],
   "mark": {"type": "line", "color": "#000", "strokeWidth": 1},
   "encoding": {
    "x": {"field": "x", "type": "quantitative", "scale": {"type": "log", "domain": [1, 520], "nice": false},
      "axis": {"orient": "bottom", "title": "colorimetric distance", "values": [1,2,3,4,5,6,7,8,9,10,20,30,40,50,60,70,80,90,100,200,300,400,500], "labelExpr": "abs(log(datum.value)/LN10 - round(log(datum.value)/LN10)) < 0.001 ? '10' + ['⁻¹','⁰','¹','²','³','⁴','⁵'][round(log(datum.value)/LN10) + 1] : ''", "tickSize": {"condition": {"test": "abs(log(datum.value)/LN10 - round(log(datum.value)/LN10)) < 0.001", "value": -5}, "value": -3}, "labelPadding": 9, "titlePadding": 2}},
    "y": {"field": "y", "type": "quantitative", "scale": {"type": "log", "domain": [1, 100000], "nice": false},
      "axis": {"orient": "left", "title": "average number of pairs", "values": [0.1,0.2,0.3,0.4,0.5,0.6,0.7,0.8,0.9,1,2,3,4,5,6,7,8,9,10,20,30,40,50,60,70,80,90,100,200,300,400,500,600,700,800,900,1000,2000,3000,4000,5000,6000,7000,8000,9000,10000,20000,30000,40000,50000,60000,70000,80000,90000,100000], "labelExpr": "abs(log(datum.value)/LN10 - round(log(datum.value)/LN10)) < 0.001 ? '10' + ['⁻¹','⁰','¹','²','³','⁴','⁵'][round(log(datum.value)/LN10) + 1] : ''", "tickSize": {"condition": {"test": "abs(log(datum.value)/LN10 - round(log(datum.value)/LN10)) < 0.001", "value": -5}, "value": -3}, "labelPadding": 11, "titlePadding": -4}}
   }},
  {"data": {"name": "curves"}, "transform": [{"filter": "datum.img === 'Y'"}],
   "mark": {"type": "point", "shape": "M-1,-1L1,1M-1,1L1,-1", "size": 100, "filled": false, "color": "#000", "strokeWidth": 1.3, "opacity": 1},
   "encoding": {"x": {"field": "x", "type": "quantitative", "axis": null}, "y": {"field": "y", "type": "quantitative", "axis": null}}},
  {"data": {"values": [{"t": "1.7"}]}, "mark": {"type": "text", "fontSize": 25, "align": "center", "baseline": "alphabetic", "color": "#1a1a1a"},
   "encoding": {"x": {"datum": 100, "axis": null}, "y": {"datum": 35400, "axis": null}, "text": {"field": "t"}}},
  {"data": {"values": [{"t": "Yacht"}]}, "mark": {"type": "text", "fontSize": 33, "align": "center", "baseline": "alphabetic", "color": "#1a1a1a"},
   "encoding": {"x": {"datum": 40.3, "axis": null}, "y": {"datum": 1.94, "axis": null}, "text": {"field": "t"}}}
 ],
 "resolve": {"axis": {"x": "independent", "y": "independent"}}
}
]},
{"spacing": 11, "hconcat": [
{"width": 393, "height": 307,
 "layer": [
  {"data": {"name": "fits"}, "transform": [{"filter": "datum.img === 'L'"}],
   "mark": {"type": "line", "color": "#000", "strokeWidth": 0.9, "strokeDash": [5, 4]},
   "encoding": {
    "x": {"field": "x", "type": "quantitative", "scale": {"type": "log", "domain": [1, 520], "nice": false},
      "axis": {"orient": "top", "title": null, "labels": false, "values": [1,2,3,4,5,6,7,8,9,10,20,30,40,50,60,70,80,90,100,200,300,400,500], "tickSize": {"condition": {"test": "abs(log(datum.value)/LN10 - round(log(datum.value)/LN10)) < 0.001", "value": -5}, "value": -3}}},
    "y": {"field": "y", "type": "quantitative", "scale": {"type": "log", "domain": [10, 100000], "nice": false},
      "axis": {"orient": "right", "title": null, "labels": false, "values": [0.1,0.2,0.3,0.4,0.5,0.6,0.7,0.8,0.9,1,2,3,4,5,6,7,8,9,10,20,30,40,50,60,70,80,90,100,200,300,400,500,600,700,800,900,1000,2000,3000,4000,5000,6000,7000,8000,9000,10000,20000,30000,40000,50000,60000,70000,80000,90000,100000], "tickSize": {"condition": {"test": "abs(log(datum.value)/LN10 - round(log(datum.value)/LN10)) < 0.001", "value": -5}, "value": -3}}}
   }},
  {"data": {"name": "curves"}, "transform": [{"filter": "datum.img === 'L'"}],
   "mark": {"type": "line", "color": "#000", "strokeWidth": 1},
   "encoding": {
    "x": {"field": "x", "type": "quantitative", "scale": {"type": "log", "domain": [1, 520], "nice": false},
      "axis": {"orient": "bottom", "title": "colorimetric distance", "values": [1,2,3,4,5,6,7,8,9,10,20,30,40,50,60,70,80,90,100,200,300,400,500], "labelExpr": "abs(log(datum.value)/LN10 - round(log(datum.value)/LN10)) < 0.001 ? '10' + ['⁻¹','⁰','¹','²','³','⁴','⁵'][round(log(datum.value)/LN10) + 1] : ''", "tickSize": {"condition": {"test": "abs(log(datum.value)/LN10 - round(log(datum.value)/LN10)) < 0.001", "value": -5}, "value": -3}, "labelPadding": 9, "titlePadding": 2}},
    "y": {"field": "y", "type": "quantitative", "scale": {"type": "log", "domain": [10, 100000], "nice": false},
      "axis": {"orient": "left", "title": "average number of pairs", "values": [0.1,0.2,0.3,0.4,0.5,0.6,0.7,0.8,0.9,1,2,3,4,5,6,7,8,9,10,20,30,40,50,60,70,80,90,100,200,300,400,500,600,700,800,900,1000,2000,3000,4000,5000,6000,7000,8000,9000,10000,20000,30000,40000,50000,60000,70000,80000,90000,100000], "labelExpr": "abs(log(datum.value)/LN10 - round(log(datum.value)/LN10)) < 0.001 ? '10' + ['⁻¹','⁰','¹','²','³','⁴','⁵'][round(log(datum.value)/LN10) + 1] : ''", "tickSize": {"condition": {"test": "abs(log(datum.value)/LN10 - round(log(datum.value)/LN10)) < 0.001", "value": -5}, "value": -3}, "labelPadding": 11, "titlePadding": -4}}
   }},
  {"data": {"name": "curves"}, "transform": [{"filter": "datum.img === 'L'"}],
   "mark": {"type": "point", "shape": "M-1,-1L1,1M-1,1L1,-1", "size": 100, "filled": false, "color": "#000", "strokeWidth": 1.3, "opacity": 1},
   "encoding": {"x": {"field": "x", "type": "quantitative", "axis": null}, "y": {"field": "y", "type": "quantitative", "axis": null}}},
  {"data": {"values": [{"t": "1.75"}]}, "mark": {"type": "text", "fontSize": 25, "align": "center", "baseline": "alphabetic", "color": "#1a1a1a"},
   "encoding": {"x": {"datum": 55.7, "axis": null}, "y": {"datum": 39500, "axis": null}, "text": {"field": "t"}}},
  {"data": {"values": [{"t": "Lacornou"}]}, "mark": {"type": "text", "fontSize": 33, "align": "center", "baseline": "alphabetic", "color": "#1a1a1a"},
   "encoding": {"x": {"datum": 60.1, "axis": null}, "y": {"datum": 20, "axis": null}, "text": {"field": "t"}}}
 ],
 "resolve": {"axis": {"x": "independent", "y": "independent"}}
},
{"width": 390, "height": 307,
 "layer": [
  {"data": {"name": "fits"}, "transform": [{"filter": "datum.img === 'G'"}],
   "mark": {"type": "line", "color": "#000", "strokeWidth": 0.9, "strokeDash": [5, 4]},
   "encoding": {
    "x": {"field": "x", "type": "quantitative", "scale": {"type": "log", "domain": [1, 520], "nice": false},
      "axis": {"orient": "top", "title": null, "labels": false, "values": [1,2,3,4,5,6,7,8,9,10,20,30,40,50,60,70,80,90,100,200,300,400,500], "tickSize": {"condition": {"test": "abs(log(datum.value)/LN10 - round(log(datum.value)/LN10)) < 0.001", "value": -5}, "value": -3}}},
    "y": {"field": "y", "type": "quantitative", "scale": {"type": "log", "domain": [1, 100000], "nice": false},
      "axis": {"orient": "right", "title": null, "labels": false, "values": [0.1,0.2,0.3,0.4,0.5,0.6,0.7,0.8,0.9,1,2,3,4,5,6,7,8,9,10,20,30,40,50,60,70,80,90,100,200,300,400,500,600,700,800,900,1000,2000,3000,4000,5000,6000,7000,8000,9000,10000,20000,30000,40000,50000,60000,70000,80000,90000,100000], "tickSize": {"condition": {"test": "abs(log(datum.value)/LN10 - round(log(datum.value)/LN10)) < 0.001", "value": -5}, "value": -3}}}
   }},
  {"data": {"name": "curves"}, "transform": [{"filter": "datum.img === 'G'"}],
   "mark": {"type": "line", "color": "#000", "strokeWidth": 1},
   "encoding": {
    "x": {"field": "x", "type": "quantitative", "scale": {"type": "log", "domain": [1, 520], "nice": false},
      "axis": {"orient": "bottom", "title": "colorimetric distance", "values": [1,2,3,4,5,6,7,8,9,10,20,30,40,50,60,70,80,90,100,200,300,400,500], "labelExpr": "abs(log(datum.value)/LN10 - round(log(datum.value)/LN10)) < 0.001 ? '10' + ['⁻¹','⁰','¹','²','³','⁴','⁵'][round(log(datum.value)/LN10) + 1] : ''", "tickSize": {"condition": {"test": "abs(log(datum.value)/LN10 - round(log(datum.value)/LN10)) < 0.001", "value": -5}, "value": -3}, "labelPadding": 9, "titlePadding": 2}},
    "y": {"field": "y", "type": "quantitative", "scale": {"type": "log", "domain": [1, 100000], "nice": false},
      "axis": {"orient": "left", "title": "average number of pairs", "values": [0.1,0.2,0.3,0.4,0.5,0.6,0.7,0.8,0.9,1,2,3,4,5,6,7,8,9,10,20,30,40,50,60,70,80,90,100,200,300,400,500,600,700,800,900,1000,2000,3000,4000,5000,6000,7000,8000,9000,10000,20000,30000,40000,50000,60000,70000,80000,90000,100000], "labelExpr": "abs(log(datum.value)/LN10 - round(log(datum.value)/LN10)) < 0.001 ? '10' + ['⁻¹','⁰','¹','²','³','⁴','⁵'][round(log(datum.value)/LN10) + 1] : ''", "tickSize": {"condition": {"test": "abs(log(datum.value)/LN10 - round(log(datum.value)/LN10)) < 0.001", "value": -5}, "value": -3}, "labelPadding": 11, "titlePadding": -4}}
   }},
  {"data": {"name": "curves"}, "transform": [{"filter": "datum.img === 'G'"}],
   "mark": {"type": "point", "shape": "M-1,-1L1,1M-1,1L1,-1", "size": 100, "filled": false, "color": "#000", "strokeWidth": 1.3, "opacity": 1},
   "encoding": {"x": {"field": "x", "type": "quantitative", "axis": null}, "y": {"field": "y", "type": "quantitative", "axis": null}}},
  {"data": {"values": [{"t": "2.25"}]}, "mark": {"type": "text", "fontSize": 25, "align": "center", "baseline": "alphabetic", "color": "#1a1a1a"},
   "encoding": {"x": {"datum": 38.5, "axis": null}, "y": {"datum": 33300, "axis": null}, "text": {"field": "t"}}},
  {"data": {"values": [{"t": "Goldhill"}]}, "mark": {"type": "text", "fontSize": 33, "align": "center", "baseline": "alphabetic", "color": "#1a1a1a"},
   "encoding": {"x": {"datum": 48.7, "axis": null}, "y": {"datum": 1.79, "axis": null}, "text": {"field": "t"}}}
 ],
 "resolve": {"axis": {"x": "independent", "y": "independent"}}
}
]},
{"spacing": 11, "hconcat": [
{"width": 393, "height": 307,
 "layer": [
  {"data": {"name": "fits"}, "transform": [{"filter": "datum.img === 'Z'"}],
   "mark": {"type": "line", "color": "#000", "strokeWidth": 0.9, "strokeDash": [5, 4]},
   "encoding": {
    "x": {"field": "x", "type": "quantitative", "scale": {"type": "log", "domain": [1, 520], "nice": false},
      "axis": {"orient": "top", "title": null, "labels": false, "values": [1,2,3,4,5,6,7,8,9,10,20,30,40,50,60,70,80,90,100,200,300,400,500], "tickSize": {"condition": {"test": "abs(log(datum.value)/LN10 - round(log(datum.value)/LN10)) < 0.001", "value": -5}, "value": -3}}},
    "y": {"field": "y", "type": "quantitative", "scale": {"type": "log", "domain": [1, 100000], "nice": false},
      "axis": {"orient": "right", "title": null, "labels": false, "values": [0.1,0.2,0.3,0.4,0.5,0.6,0.7,0.8,0.9,1,2,3,4,5,6,7,8,9,10,20,30,40,50,60,70,80,90,100,200,300,400,500,600,700,800,900,1000,2000,3000,4000,5000,6000,7000,8000,9000,10000,20000,30000,40000,50000,60000,70000,80000,90000,100000], "tickSize": {"condition": {"test": "abs(log(datum.value)/LN10 - round(log(datum.value)/LN10)) < 0.001", "value": -5}, "value": -3}}}
   }},
  {"data": {"name": "curves"}, "transform": [{"filter": "datum.img === 'Z'"}],
   "mark": {"type": "line", "color": "#000", "strokeWidth": 1},
   "encoding": {
    "x": {"field": "x", "type": "quantitative", "scale": {"type": "log", "domain": [1, 520], "nice": false},
      "axis": {"orient": "bottom", "title": "colorimetric distance", "values": [1,2,3,4,5,6,7,8,9,10,20,30,40,50,60,70,80,90,100,200,300,400,500], "labelExpr": "abs(log(datum.value)/LN10 - round(log(datum.value)/LN10)) < 0.001 ? '10' + ['⁻¹','⁰','¹','²','³','⁴','⁵'][round(log(datum.value)/LN10) + 1] : ''", "tickSize": {"condition": {"test": "abs(log(datum.value)/LN10 - round(log(datum.value)/LN10)) < 0.001", "value": -5}, "value": -3}, "labelPadding": 9, "titlePadding": 2}},
    "y": {"field": "y", "type": "quantitative", "scale": {"type": "log", "domain": [1, 100000], "nice": false},
      "axis": {"orient": "left", "title": "average number of pairs", "values": [0.1,0.2,0.3,0.4,0.5,0.6,0.7,0.8,0.9,1,2,3,4,5,6,7,8,9,10,20,30,40,50,60,70,80,90,100,200,300,400,500,600,700,800,900,1000,2000,3000,4000,5000,6000,7000,8000,9000,10000,20000,30000,40000,50000,60000,70000,80000,90000,100000], "labelExpr": "abs(log(datum.value)/LN10 - round(log(datum.value)/LN10)) < 0.001 ? '10' + ['⁻¹','⁰','¹','²','³','⁴','⁵'][round(log(datum.value)/LN10) + 1] : ''", "tickSize": {"condition": {"test": "abs(log(datum.value)/LN10 - round(log(datum.value)/LN10)) < 0.001", "value": -5}, "value": -3}, "labelPadding": 11, "titlePadding": -4}}
   }},
  {"data": {"name": "curves"}, "transform": [{"filter": "datum.img === 'Z'"}],
   "mark": {"type": "point", "shape": "M-1,-1L1,1M-1,1L1,-1", "size": 100, "filled": false, "color": "#000", "strokeWidth": 1.3, "opacity": 1},
   "encoding": {"x": {"field": "x", "type": "quantitative", "axis": null}, "y": {"field": "y", "type": "quantitative", "axis": null}}},
  {"data": {"values": [{"t": "2.3"}]}, "mark": {"type": "text", "fontSize": 25, "align": "center", "baseline": "alphabetic", "color": "#1a1a1a"},
   "encoding": {"x": {"datum": 53.6, "axis": null}, "y": {"datum": 33100, "axis": null}, "text": {"field": "t"}}},
  {"data": {"values": [{"t": "Zelda"}]}, "mark": {"type": "text", "fontSize": 33, "align": "center", "baseline": "alphabetic", "color": "#1a1a1a"},
   "encoding": {"x": {"datum": 38.6, "axis": null}, "y": {"datum": 1.9, "axis": null}, "text": {"field": "t"}}}
 ],
 "resolve": {"axis": {"x": "independent", "y": "independent"}}
},
{"width": 384, "height": 303,
 "layer": [
  {"data": {"name": "fits"}, "transform": [{"filter": "datum.img === 'M'"}],
   "mark": {"type": "line", "color": "#000", "strokeWidth": 0.9, "strokeDash": [5, 4]},
   "encoding": {
    "x": {"field": "x", "type": "quantitative", "scale": {"type": "log", "domain": [1, 520], "nice": false},
      "axis": {"orient": "top", "title": null, "labels": false, "values": [1,2,3,4,5,6,7,8,9,10,20,30,40,50,60,70,80,90,100,200,300,400,500], "tickSize": {"condition": {"test": "abs(log(datum.value)/LN10 - round(log(datum.value)/LN10)) < 0.001", "value": -5}, "value": -3}}},
    "y": {"field": "y", "type": "quantitative", "scale": {"type": "log", "domain": [0.1, 100000], "nice": false},
      "axis": {"orient": "right", "title": null, "labels": false, "values": [0.1,0.2,0.3,0.4,0.5,0.6,0.7,0.8,0.9,1,2,3,4,5,6,7,8,9,10,20,30,40,50,60,70,80,90,100,200,300,400,500,600,700,800,900,1000,2000,3000,4000,5000,6000,7000,8000,9000,10000,20000,30000,40000,50000,60000,70000,80000,90000,100000], "tickSize": {"condition": {"test": "abs(log(datum.value)/LN10 - round(log(datum.value)/LN10)) < 0.001", "value": -5}, "value": -3}}}
   }},
  {"data": {"name": "curves"}, "transform": [{"filter": "datum.img === 'M'"}],
   "mark": {"type": "line", "color": "#000", "strokeWidth": 1},
   "encoding": {
    "x": {"field": "x", "type": "quantitative", "scale": {"type": "log", "domain": [1, 520], "nice": false},
      "axis": {"orient": "bottom", "title": "colorimetric distance", "values": [1,2,3,4,5,6,7,8,9,10,20,30,40,50,60,70,80,90,100,200,300,400,500], "labelExpr": "abs(log(datum.value)/LN10 - round(log(datum.value)/LN10)) < 0.001 ? '10' + ['⁻¹','⁰','¹','²','³','⁴','⁵'][round(log(datum.value)/LN10) + 1] : ''", "tickSize": {"condition": {"test": "abs(log(datum.value)/LN10 - round(log(datum.value)/LN10)) < 0.001", "value": -5}, "value": -3}, "labelPadding": 9, "titlePadding": 2}},
    "y": {"field": "y", "type": "quantitative", "scale": {"type": "log", "domain": [0.1, 100000], "nice": false},
      "axis": {"orient": "left", "title": "average number of pairs", "values": [0.1,0.2,0.3,0.4,0.5,0.6,0.7,0.8,0.9,1,2,3,4,5,6,7,8,9,10,20,30,40,50,60,70,80,90,100,200,300,400,500,600,700,800,900,1000,2000,3000,4000,5000,6000,7000,8000,9000,10000,20000,30000,40000,50000,60000,70000,80000,90000,100000], "labelExpr": "abs(log(datum.value)/LN10 - round(log(datum.value)/LN10)) < 0.001 ? '10' + ['⁻¹','⁰','¹','²','³','⁴','⁵'][round(log(datum.value)/LN10) + 1] : ''", "tickSize": {"condition": {"test": "abs(log(datum.value)/LN10 - round(log(datum.value)/LN10)) < 0.001", "value": -5}, "value": -3}, "labelPadding": 11, "titlePadding": -4}}
   }},
  {"data": {"name": "curves"}, "transform": [{"filter": "datum.img === 'M'"}],
   "mark": {"type": "point", "shape": "M-1,-1L1,1M-1,1L1,-1", "size": 100, "filled": false, "color": "#000", "strokeWidth": 1.3, "opacity": 1},
   "encoding": {"x": {"field": "x", "type": "quantitative", "axis": null}, "y": {"field": "y", "type": "quantitative", "axis": null}}},
  {"data": {"values": [{"t": "2.6"}]}, "mark": {"type": "text", "fontSize": 25, "align": "center", "baseline": "alphabetic", "color": "#1a1a1a"},
   "encoding": {"x": {"datum": 48.9, "axis": null}, "y": {"datum": 27300, "axis": null}, "text": {"field": "t"}}},
  {"data": {"values": [{"t": "Mandrill"}]}, "mark": {"type": "text", "fontSize": 33, "align": "center", "baseline": "alphabetic", "color": "#1a1a1a"},
   "encoding": {"x": {"datum": 50.2, "axis": null}, "y": {"datum": 0.181, "axis": null}, "text": {"field": "t"}}}
 ],
 "resolve": {"axis": {"x": "independent", "y": "independent"}}
}
]}
],
"config": {
 "font": "Liberation Sans",
 "view": {"stroke": null},
 "text": {"font": "Liberation Sans"},
 "axis": {"grid": false, "domainColor": "#000", "domainWidth": 1.2, "tickColor": "#000", "tickWidth": 1, "labelColor": "#1a1a1a", "titleColor": "#1a1a1a", "labelFont": "Liberation Sans", "titleFont": "Liberation Sans", "labelFontSize": 17.5, "titleFontSize": 20.5, "titleFontWeight": "normal", "labelOverlap": false, "labelFlush": false, "labelBound": false}
}
}
